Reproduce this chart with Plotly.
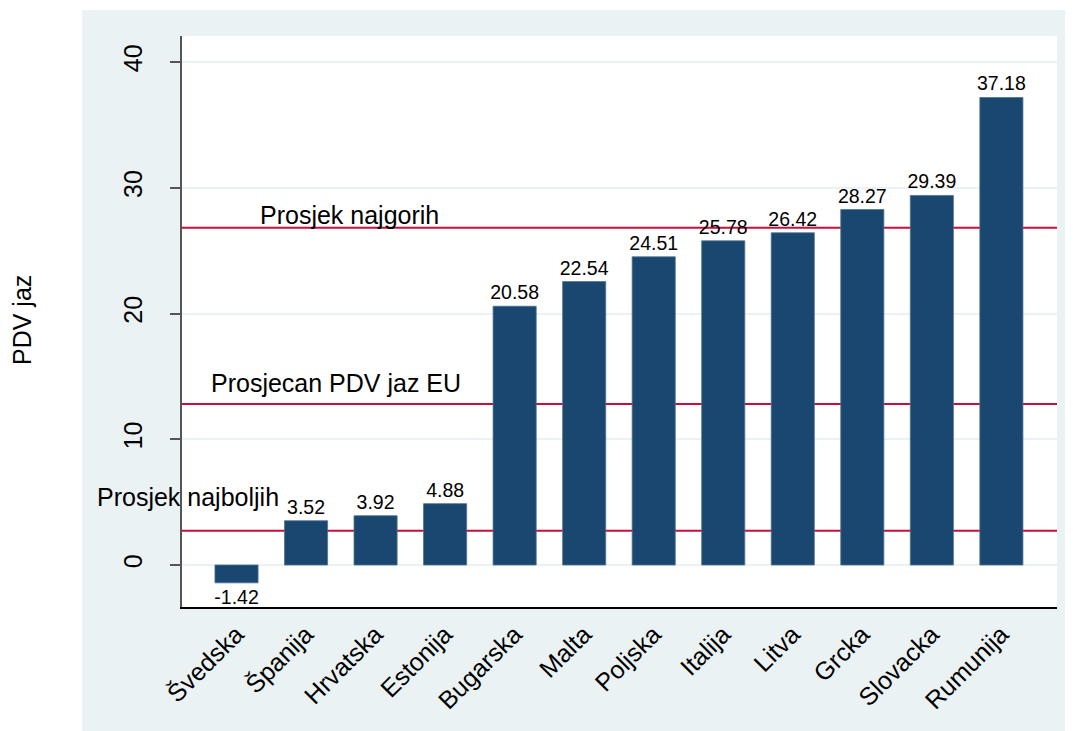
import plotly.graph_objects as go

countries = ["Švedska", "Španija", "Hrvatska", "Estonija", "Bugarska", "Malta",
             "Poljska", "Italija", "Litva", "Grcka", "Slovacka", "Rumunija"]
vat_gap = [-1.42, 3.52, 3.92, 4.88, 20.58, 22.54, 24.51, 25.78, 26.42, 28.27, 29.39, 37.18]
value_labels = ["-1.42", "3.52", "3.92", "4.88", "20.58", "22.54", "24.51", "25.78",
                "26.42", "28.27", "29.39", "37.18"]

ref_names = ["Prosjek najgorih", "Prosjecan PDV jaz EU", "Prosjek najboljih"]
ref_values = [26.83, 12.8, 2.725]
y_ticks = [0, 10, 20, 30, 40]

FONT = "Arial, 'Liberation Sans', Helvetica, sans-serif"
BAR = "#1a476f"
RED = "#c80f3c"
BG = "#eaf2f3"

fig = go.Figure()
fig.add_trace(go.Bar(
    x=list(range(len(countries))), y=vat_gap,
    marker=dict(color=BAR, line=dict(color="#4d7294", width=0.8)),
    text=value_labels, textposition="outside", constraintext="none",
    textfont=dict(family=FONT, size=19.5, color="#000000"),
    cliponaxis=False, width=0.62, showlegend=False, hoverinfo="x+y",
))

# reference lines
for v in ref_values:
    fig.add_shape(type="line", xref="paper", x0=0, x1=1, yref="y", y0=v, y1=v,
                  line=dict(color=RED, width=2), layer="below")

# reference labels (positions in category units, pixel offset above line)
label_x = [1.62, 1.43, -0.70]
label_shift = [13, 21, 34]
for name, v, lx, sh in zip(ref_names, ref_values, label_x, label_shift):
    fig.add_annotation(x=lx, y=v, xref="x", yref="y", text=name, showarrow=False,
                       xanchor="center", yanchor="middle", yshift=sh,
                       font=dict(family=FONT, size=25, color="#000000"))

# y axis title
fig.add_annotation(x=-0.1826, y=0.503, xref="paper", yref="paper", text="PDV jaz",
                   textangle=-90, showarrow=False, xanchor="center", yanchor="middle",
                   font=dict(family=FONT, size=25, color="#000000"))

# white strips outside the graph region
fig.add_shape(type="rect", xref="paper", yref="paper", x0=-0.3, x1=-0.1143, y0=-0.4, y1=1.2,
              fillcolor="white", line=dict(width=0), layer="below")
fig.add_shape(type="rect", xref="paper", yref="paper", x0=-0.3, x1=1.2, y0=1.0455, y1=1.2,
              fillcolor="white", line=dict(width=0), layer="below")

fig.update_layout(
    width=1065, height=723,
    margin=dict(l=174, r=16, t=28, b=124),
    paper_bgcolor=BG, plot_bgcolor="white",
    font=dict(family=FONT, size=25, color="#000000"),
    showlegend=False,
)
fig.update_xaxes(
    range=[-0.784, 11.8], tickmode="array", tickvals=list(range(len(countries))),
    ticktext=countries, tickangle=-45, showgrid=False, zeroline=False,
    showline=True, linecolor="#000000", linewidth=1.5, ticks="",
    tickfont=dict(family=FONT, size=25, color="#000000"), ticklabelstandoff=1,
)
fig.update_yaxes(
    range=[-3.34, 42.07], tickmode="array", tickvals=y_ticks,
    ticktext=[str(t) for t in y_ticks], tickangle=-90,
    showgrid=True, gridcolor=BG, gridwidth=1.5, zeroline=False,
    showline=True, linecolor="#555555", linewidth=1.5,
    ticks="outside", ticklen=10, tickwidth=1.5, tickcolor="#555555",
    tickfont=dict(family=FONT, size=25, color="#000000"), ticklabelstandoff=18,
)

fig.write_html("out.html")
